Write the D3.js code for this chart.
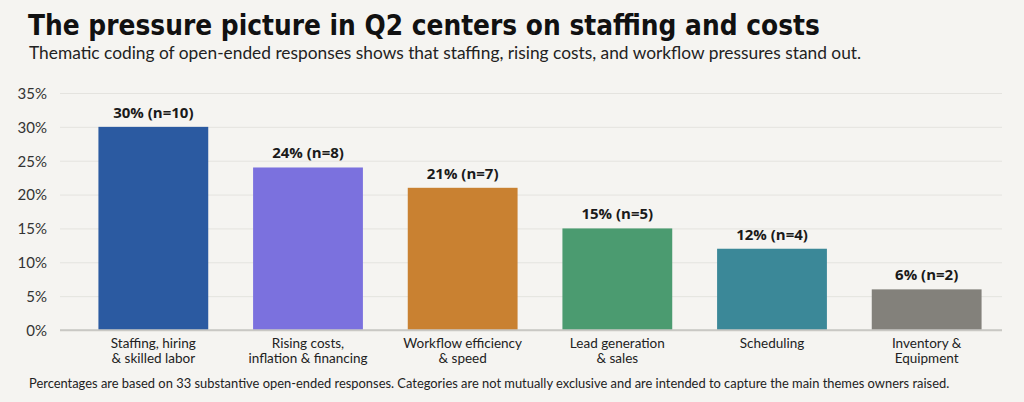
<!DOCTYPE html>
<html>
<head>
<meta charset="utf-8">
<script src="https://cdn.jsdelivr.net/npm/d3@7"></script>
<style>
  html, body { margin: 0; padding: 0; background: #f5f4f1; }
  svg { display: block; }
</style>
</head>
<body>
<div id="chart"></div>
<script>
// data
const categories = [
  ['Staffing, hiring', '& skilled labor'],
  ['Rising costs,', 'inflation & financing'],
  ['Workflow efficiency', '& speed'],
  ['Lead generation', '& sales'],
  ['Scheduling'],
  ['Inventory &', 'Equipment']
];
const shares = [30, 24, 21, 15, 12, 6];
const counts = [10, 8, 7, 5, 4, 2];
const barColors = ['#2b5aa1', '#7b71de', '#c98131', '#4b9b70', '#3b8898', '#83817b'];
const yTicks = [0, 5, 10, 15, 20, 25, 30, 35];

const width = 1024;
const height = 402;
const margin = { top: 93, right: 22, bottom: 72, left: 60 };
const bodyFont = 'Lato, "Open Sans", sans-serif';

const svg = d3.select('#chart')
  .append('svg')
  .attr('width', width)
  .attr('height', height);

svg.append('rect')
  .attr('width', width)
  .attr('height', height)
  .attr('fill', '#f5f4f1');

// title + subtitle, sized to the reference widths
const title = svg.append('text')
  .attr('x', 28)
  .attr('y', 35)
  .attr('font-family', '"DejaVu Sans Condensed", "DejaVu Sans", sans-serif')
  .attr('font-weight', 'bold')
  .attr('font-size', 30)
  .attr('fill', '#111')
  .text('The pressure picture in Q2 centers on staffing and costs');
let w = title.node().getComputedTextLength();
title.attr('font-size', 30 * 792 / w);

const sub = svg.append('text')
  .attr('x', 29)
  .attr('y', 59)
  .attr('font-family', bodyFont)
  .attr('font-size', 17)
  .attr('fill', '#222')
  .text('Thematic coding of open-ended responses shows that staffing, rising costs, and workflow pressures stand out.');
w = sub.node().getComputedTextLength();
sub.attr('font-size', 17 * 833 / w);

const x = d3.scaleBand()
  .domain(d3.range(categories.length))
  .range([76, 1004])
  .paddingInner(0.29)
  .paddingOuter(0.145);

const y = d3.scaleLinear()
  .domain([0, 35])
  .range([height - margin.bottom, margin.top]);

// gridlines + y labels
const yAxis = d3.axisLeft(y)
  .tickValues(yTicks)
  .tickFormat(d => d + '%')
  .tickSize(-(1002 - margin.left))
  .tickPadding(12);

const gy = svg.append('g')
  .attr('transform', `translate(${margin.left},0)`)
  .call(yAxis);
gy.select('.domain').remove();
gy.selectAll('.tick line')
  .attr('stroke', d => d === 0 ? '#c9c8c4' : '#e4e3df')
  .attr('stroke-width', d => d === 0 ? 1.5 : 1);
gy.selectAll('.tick text')
  .attr('font-family', bodyFont)
  .attr('font-size', 15)
  .attr('fill', '#333')
  .attr('text-anchor', 'end')
  .attr('x', -13)
  .attr('dy', '0.36em');

// bars
svg.append('g')
  .selectAll('rect')
  .data(shares)
  .join('rect')
  .attr('x', (d, i) => x(i))
  .attr('y', d => y(d))
  .attr('width', x.bandwidth())
  .attr('height', d => y(0) - y(d))
  .attr('fill', (d, i) => barColors[i]);

// keep the baseline on top of the bars
svg.append('line')
  .attr('x1', margin.left)
  .attr('x2', 1002)
  .attr('y1', y(0))
  .attr('y2', y(0))
  .attr('stroke', '#c9c8c4')
  .attr('stroke-width', 1.5);

// value labels
svg.append('g')
  .selectAll('text')
  .data(shares)
  .join('text')
  .attr('x', (d, i) => x(i) + x.bandwidth() / 2)
  .attr('y', d => y(d) - 9)
  .attr('text-anchor', 'middle')
  .attr('font-family', '"Open Sans", sans-serif')
  .attr('font-weight', 'bold')
  .attr('font-size', 15)
  .attr('fill', '#1a1a1a')
  .text((d, i) => `${d}% (n=${counts[i]})`);

// category labels
const cat = svg.append('g')
  .selectAll('text')
  .data(categories)
  .join('text')
  .attr('x', (d, i) => x(i) + x.bandwidth() / 2)
  .attr('y', y(0) + 18)
  .attr('text-anchor', 'middle')
  .attr('font-family', bodyFont)
  .attr('font-size', 13.5)
  .attr('fill', '#222');
cat.selectAll('tspan')
  .data(d => d)
  .join('tspan')
  .attr('x', function() { return d3.select(this.parentNode).attr('x'); })
  .attr('dy', (d, i) => i === 0 ? 0 : 14.5)
  .text(d => d);

// footnote
const note = svg.append('text')
  .attr('x', 29)
  .attr('y', 388)
  .attr('font-family', bodyFont)
  .attr('font-size', 13)
  .attr('fill', '#222')
  .text('Percentages are based on 33 substantive open-ended responses. Categories are not mutually exclusive and are intended to capture the main themes owners raised.');
w = note.node().getComputedTextLength();
note.attr('font-size', 13 * 921 / w);
</script>
</body>
</html>
